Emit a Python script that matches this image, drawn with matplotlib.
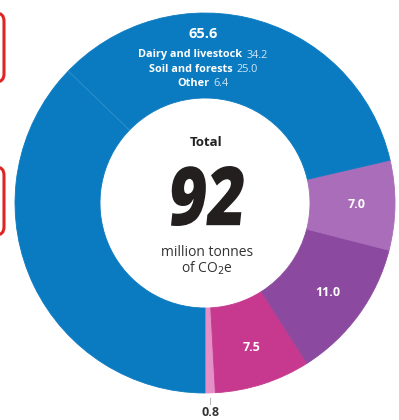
import numpy as np
import matplotlib
matplotlib.use("Agg")
import matplotlib.pyplot as plt
from matplotlib.patches import FancyBboxPatch, PathPatch
from matplotlib.textpath import TextPath
from matplotlib.font_manager import FontProperties
from matplotlib.transforms import Affine2D
from matplotlib import font_manager

# --- data -------------------------------------------------------------
blue_labels = ["Dairy and livestock", "Soil and forests", "Other"]
blue_values = [34.2, 25.0, 6.4]
blue_total = 65.6

# remaining slices, counter-clockwise from the bottom of the ring
rest_values = [0.8, 7.5, 11.0, 7.0]
rest_colors = ["#e48fc6", "#c7398f", "#8b4a9f", "#a96db9"]
blue_color = "#0b7bc1"

unit_lines = ["million tonnes", "of CO$_2$e"]

# --- figure -----------------------------------------------------------
W, H = 399, 420
fig = plt.figure(figsize=(W / 100, H / 100), dpi=100)
ax = fig.add_axes([0, 0, 1, 1])
ax.set_xlim(0, W)
ax.set_ylim(0, H)
ax.set_aspect("equal")
ax.axis("off")

available = {f.name for f in font_manager.fontManager.ttflist}
body_font = "Open Sans" if "Open Sans" in available else "DejaVu Sans"

cx, cy = 205, H - 203
R_out, R_in = 190, 105

# ring: small slices first, then the blue block
values = rest_values + [blue_total]
colors = rest_colors + [blue_color]
wedges, _ = ax.pie(values, colors=colors, startangle=270, counterclock=True,
                   radius=R_out, center=(cx, cy),
                   wedgeprops=dict(width=R_out - R_in, linewidth=0.6))
for w, c in zip(wedges, colors):
    w.set_edgecolor(c)
ax.set_xlim(0, W)
ax.set_ylim(0, H)

# faint divider where the dairy portion of the blue block starts
blue_wedge = wedges[-1]
span = blue_wedge.theta2 - blue_wedge.theta1
a = np.deg2rad(blue_wedge.theta2 - span * blue_values[0] / blue_total)
ax.plot([cx + R_in * np.cos(a), cx + R_out * np.cos(a)],
        [cy + R_in * np.sin(a), cy + R_out * np.sin(a)],
        color="#3f97d0", lw=0.6, alpha=0.8, zorder=3)

# values on the small slices
for w, v in zip(wedges[1:len(rest_values)], rest_values[1:]):
    mid = np.deg2rad((w.theta1 + w.theta2) / 2)
    r = 152
    ax.text(cx + r * np.cos(mid), cy + r * np.sin(mid), f"{v:.1f}",
            ha="center", va="center", color="white", fontsize=9,
            fontweight="bold", family=body_font)

# the thin slice gets its value below the ring
thin = wedges[0]
mid = np.deg2rad((thin.theta1 + thin.theta2) / 2)
tx = cx + R_out * np.cos(mid)
ax.plot([tx, tx], [H - 398, H - 404], color="#bbbbbb", lw=0.8)
ax.text(tx, H - 413, f"{rest_values[0]:.1f}", ha="center", va="center",
        color="#333333", fontsize=9, fontweight="bold", family=body_font)

# blue block heading and breakdown
ax.text(cx - 2, H - 34, f"{blue_total:.1f}", ha="center", va="center",
        color="white", fontsize=10.5, fontweight="bold", family=body_font)

fig.canvas.draw()
renderer = fig.canvas.get_renderer()
gap = 4
for i, (lab, val) in enumerate(zip(blue_labels, blue_values)):
    y = H - (55 + 14.5 * i)
    t1 = ax.text(0, y, lab, ha="left", va="center", color="white",
                 fontsize=7.8, fontweight="bold", family=body_font)
    t2 = ax.text(0, y, f"{val:.1f}", ha="left", va="center", color="#cfe4f4",
                 fontsize=7.8, family=body_font)
    w1 = t1.get_window_extent(renderer).width
    w2 = t2.get_window_extent(renderer).width
    x0 = cx - 2 - (w1 + gap + w2) / 2
    t1.set_x(x0)
    t2.set_x(x0 + w1 + gap)

# centre text
grand_total = sum(rest_values) + blue_total
ax.text(cx + 1, H - 143, "Total", ha="center", va="center", color="#222222",
        fontsize=9.5, fontweight="bold", family=body_font)

# big condensed, slightly leaning total
big = TextPath((0, 0), f"{round(grand_total):d}", size=100,
               prop=FontProperties(family=body_font, weight="heavy"))
ext = big.get_extents()
target_h, target_w = 60, 72
sy = target_h / ext.height
sx = target_w / ext.width
big_tf = (Affine2D().translate(-ext.x0 - ext.width / 2, -ext.y0 - ext.height / 2)
          .scale(sx, sy).skew_deg(6, 0)
          .translate(cx + 2, H - 196))
ax.add_patch(PathPatch(big_tf.transform_path(big), facecolor="#231f1e",
                       edgecolor="none", zorder=4))

for i, line in enumerate(unit_lines):
    ax.text(cx + 2, H - (253 + 15 * i), line, ha="center", va="center",
            color="#333333", fontsize=10, family=body_font)

# rounded red frames at the left edge
for top, bottom in [(13, 82), (167, 235)]:
    box = FancyBboxPatch((-30, H - bottom), 34, bottom - top,
                         boxstyle="round,pad=0,rounding_size=8",
                         fill=False, edgecolor="#e02424", lw=2.2,
                         clip_on=False)
    ax.add_patch(box)

fig.savefig("out.png", dpi=100, facecolor="white")
